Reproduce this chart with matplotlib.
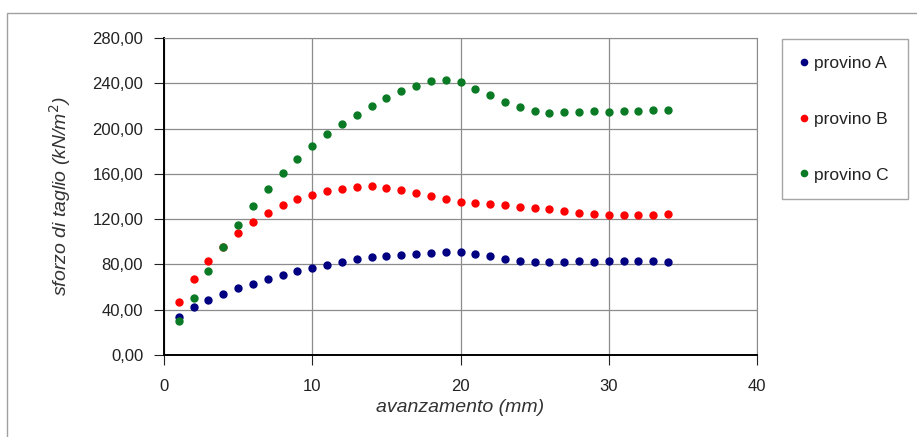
#!/usr/bin/env python3
"""Sforzo di taglio vs avanzamento per tre provini."""

import matplotlib

matplotlib.use("Agg")
import matplotlib.pyplot as plt
from matplotlib.patches import Rectangle
from matplotlib.ticker import FuncFormatter

plt.rcParams["font.family"] = ["Liberation Sans", "DejaVu Sans"]

# avanzamento (mm), one reading per mm
avanzamento = list(range(1, 35))

provino_a = [33.4, 42.3, 48.5, 53.8, 59.1, 62.7, 67.4, 70.4, 73.9, 76.6,
             79.8, 82.2, 84.5, 86.6, 87.5, 88.7, 89.3, 90.2, 91.0, 90.7,
             89.3, 87.2, 84.5, 82.8, 82.2, 82.2, 82.2, 82.8, 82.5, 82.8,
             82.8, 82.8, 83.4, 82.2]
provino_b = [47.0, 66.8, 82.8, 95.0, 107.6, 117.4, 125.6, 132.4, 137.5, 141.3,
             144.8, 146.9, 148.4, 149.0, 147.5, 145.7, 143.4, 140.1, 137.7, 135.4,
             133.9, 133.3, 132.4, 130.9, 130.1, 128.9, 127.1, 125.6, 124.7, 123.3,
             123.3, 123.6, 123.3, 124.2]
provino_c = [29.6, 50.0, 74.5, 95.5, 114.4, 131.2, 146.3, 160.5, 173.2, 184.7,
             194.8, 204.0, 211.9, 219.9, 226.7, 232.9, 237.9, 241.8, 243.3, 241.5,
             235.3, 229.4, 223.8, 219.0, 215.8, 214.0, 214.6, 214.9, 215.2, 214.9,
             215.5, 215.2, 216.1, 216.4]

SERIES = [
    ("provino A", provino_a, "#000080"),
    ("provino B", provino_b, "#ff0000"),
    ("provino C", provino_c, "#0a7a24"),
]

W, H = 917, 437
fig = plt.figure(figsize=(W / 100, H / 100), dpi=100)
ax = fig.add_axes([164 / W, 1 - 355 / H, (757 - 164) / W, (355 - 38) / H])

# outer chart-area frame
fig.patches.append(Rectangle((7 / W, -0.05), 1.1, 1.05 - 13 / H,
                             transform=fig.transFigure, fill=False,
                             edgecolor="#a0a0a0", lw=1.0))

for name, vals, col in SERIES:
    ax.plot(avanzamento, vals, ls="none", marker="o", ms=5,
            mfc=col, mec=col, label=name, clip_on=False)

ax.set_xlim(0, 40)
ax.set_ylim(0, 280)
ax.set_xticks([0, 10, 20, 30, 40])
ax.set_yticks(range(0, 281, 40))
ax.yaxis.set_major_formatter(FuncFormatter(lambda v, _: f"{v:.2f}".replace(".", ",")))
ax.tick_params(labelsize=12, colors="#222222", length=7, direction="out")
ax.tick_params(axis="x", pad=10)
ax.tick_params(axis="y", pad=8)
ax.grid(True, color="#8c8c8c", lw=0.9)
ax.set_axisbelow(True)
for side in ("top", "right"):
    ax.spines[side].set_color("#8c8c8c")
for side in ("left", "bottom"):
    ax.spines[side].set_linewidth(1.4)

ax.set_xlabel("avanzamento (mm)", fontsize=14, style="italic",
              color="#333333", labelpad=4)
ax.set_ylabel("sforzo di taglio (kN/m$^2$)", fontsize=14, style="italic",
              color="#333333", labelpad=14)

leg = fig.legend(loc="upper left",
                 bbox_to_anchor=(782 / W, 1 - 39 / H, 126 / W, 0.0),
                 mode="expand", borderaxespad=0, fontsize=12.5,
                 frameon=True, fancybox=False, edgecolor="#909090",
                 borderpad=0.95, labelspacing=2.35, handlelength=0.6,
                 handletextpad=0.3, markerscale=0.9)
leg.get_frame().set_linewidth(1.0)
for t in leg.get_texts():
    t.set_color("#222222")

fig.savefig("out.png", dpi=100)
